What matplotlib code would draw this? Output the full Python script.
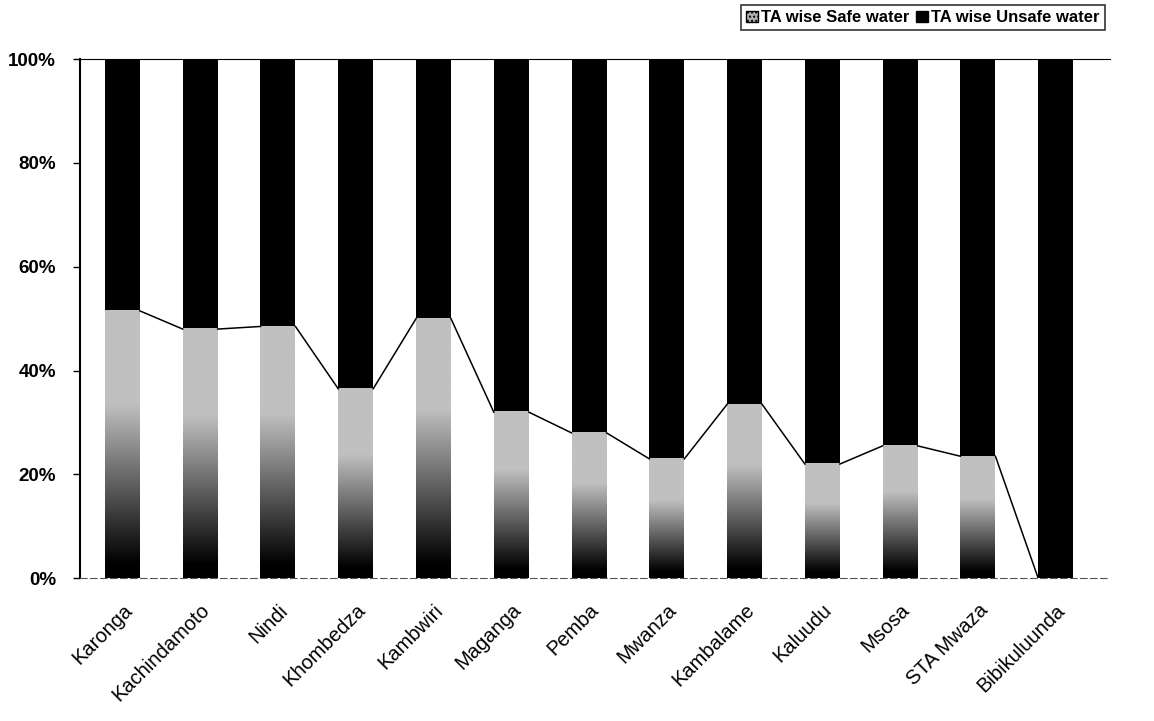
import matplotlib
matplotlib.use("Agg")
import matplotlib.pyplot as plt
import numpy as np
from matplotlib.patches import Patch
from matplotlib.ticker import FuncFormatter

# Data (share of safe water per TA, %)
categories = ["Karonga", "Kachindamoto", "Nindi", "Khombedza", "Kambwiri", "Maganga",
              "Pemba", "Mwanza", "Kambalame", "Kaluudu", "Msosa", "STA Mwaza", "Bibikuluunda"]
safe_pct = [51.5, 48.0, 48.5, 36.5, 50.0, 32.0, 28.0, 23.0, 33.5, 22.0, 25.5, 23.5, 0.0]
unsafe_pct = [100 - v for v in safe_pct]

plt.rcParams['font.family'] = ['Liberation Sans', 'DejaVu Sans']

fig = plt.figure(figsize=(11.54, 7.21), dpi=100)
ax = fig.add_axes([0.069, 0.198, 0.893, 0.72])

x = np.arange(len(categories))
width = 0.45

# unsafe part (black) stacked on top of safe part
ax.bar(x, unsafe_pct, width, bottom=safe_pct, color='black', zorder=2)

# safe part: vertical gradient, dark at the bottom, light stipple-grey at the top
t = np.linspace(0, 1, 200)
shade = np.clip((t - 0.05) / 0.6, 0, 1) * 0.75
grad = shade[:, None]
for xi, v in zip(x, safe_pct):
    if v <= 0:
        continue
    ax.imshow(grad, cmap='gray', vmin=0, vmax=1, origin='lower', aspect='auto',
              extent=[xi - width / 2, xi + width / 2, 0, v], zorder=2,
              interpolation='bilinear')

# series lines joining tops of the safe segments
for i in range(len(x) - 1):
    ax.plot([x[i] + width / 2, x[i + 1] - width / 2], [safe_pct[i], safe_pct[i + 1]],
            color='black', lw=1.1, zorder=3)

ax.set_xlim(-0.55, len(x) - 0.3)
ax.set_ylim(0, 100)
ax.set_yticks([0, 20, 40, 60, 80, 100])
ax.yaxis.set_major_formatter(FuncFormatter(lambda v, p: f"{int(v)}%"))
ax.tick_params(axis='y', labelsize=13.5, length=5, width=1, direction='out', pad=12)
for lbl in ax.get_yticklabels():
    lbl.set_fontweight('bold')

ax.set_xticks(x)
ax.set_xticklabels(categories, rotation=45, ha='right', rotation_mode='anchor',
                   fontsize=14.5)
ax.tick_params(axis='x', length=0, pad=16)

ax.spines['left'].set_linewidth(1.5)
ax.spines['right'].set_visible(False)
ax.spines['top'].set_linewidth(0.8)
ax.spines['bottom'].set_linewidth(0.8)
ax.spines['bottom'].set_linestyle((0, (6, 3)))
ax.spines['bottom'].set_color('#555555')

handles = [Patch(facecolor='#b0b0b0', edgecolor='black', hatch='....', label='TA wise Safe water'),
           Patch(facecolor='black', edgecolor='black', label='TA wise Unsafe water')]
leg = fig.legend(handles=handles, loc='upper right', bbox_to_anchor=(0.96, 0.997), ncol=2,
                 frameon=True, fancybox=False, edgecolor='black',
                 handlelength=0.7, handleheight=0.7, handletextpad=0.2, columnspacing=0.4,
                 borderpad=0.3, borderaxespad=0.2, prop={'weight': 'bold', 'size': 12})
leg.get_frame().set_linewidth(1.2)

fig.savefig('out.png', dpi=100)
plt.close(fig)
